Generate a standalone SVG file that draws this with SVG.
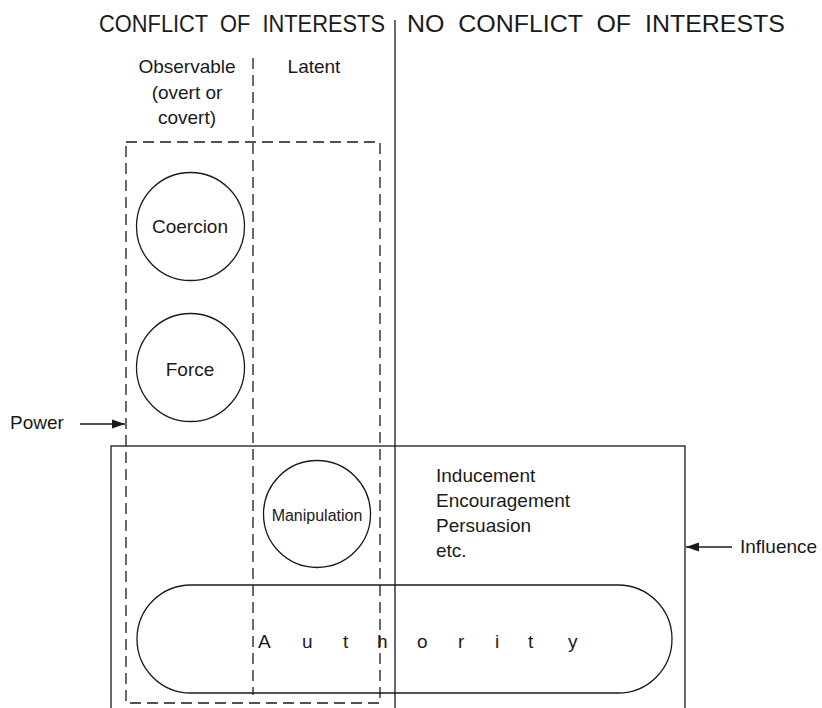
<svg xmlns="http://www.w3.org/2000/svg" width="822" height="708" viewBox="0 0 822 708">
<defs>
<marker id="ah" markerWidth="13" markerHeight="10" refX="13" refY="5" orient="auto" markerUnits="userSpaceOnUse">
<path d="M0,0.5 L13,5 L0,9.5 Z" fill="#1a1a1a"/>
</marker>
<style>
text{font-family:"Liberation Sans",Arial,sans-serif;fill:#1a1a1a}
.big{font-size:23px}
.lab{font-size:19px}
.small{font-size:16px}
.solid{fill:none;stroke:#1a1a1a;stroke-width:1.3}
.dash{fill:none;stroke:#1a1a1a;stroke-width:1.3;stroke-dasharray:11 6}
</style>
</defs>
<rect width="822" height="708" fill="#fff"/>
<g id="headers">
<text class="big" x="99" y="32" textLength="286" lengthAdjust="spacingAndGlyphs" xml:space="preserve">CONFLICT  OF  INTERESTS</text>
<text class="big" x="407" y="32" textLength="378" lengthAdjust="spacingAndGlyphs" xml:space="preserve">NO  CONFLICT  OF  INTERESTS</text>
<text class="lab" x="187" y="73" text-anchor="middle">Observable</text>
<text class="lab" x="187" y="99" text-anchor="middle">(overt or</text>
<text class="lab" x="187" y="124" text-anchor="middle">covert)</text>
<text class="lab" x="314" y="73" text-anchor="middle">Latent</text>
</g>
<g id="dividers">
<line class="solid" x1="395" y1="20" x2="395" y2="708"/>
<line class="dash" x1="253" y1="58" x2="253" y2="695"/>
</g>
<g id="power">
<rect class="dash" x="126" y="142" width="254" height="561"/>
<text class="lab" x="10" y="429">Power</text>
</g>
<g id="influence">
<rect class="solid" x="111" y="446" width="574" height="280"/>
<text class="lab" x="740" y="553">Influence</text>
</g>
<g id="coercion">
<circle class="solid" cx="190.5" cy="226.5" r="54"/>
<text class="lab" x="190" y="233" text-anchor="middle">Coercion</text>
</g>
<g id="force">
<circle class="solid" cx="190.5" cy="367.5" r="54"/>
<text class="lab" x="190" y="376" text-anchor="middle">Force</text>
</g>
<g id="manipulation">
<circle class="solid" cx="317" cy="514" r="53.5"/>
<text class="small" x="317" y="521" text-anchor="middle">Manipulation</text>
</g>
<g id="others">
<text class="lab" x="436" y="482">Inducement</text>
<text class="lab" x="436" y="507">Encouragement</text>
<text class="lab" x="436" y="532">Persuasion</text>
<text class="lab" x="436" y="557">etc.</text>
</g>
<g id="authority">
<rect class="solid" x="137" y="585" width="535" height="108" rx="54" ry="54"/>
<text class="lab" x="258 302 343 377 417 458 495 528 568" y="648">Authority</text>
</g>
<g id="connectors">
<line class="solid" x1="80" y1="424" x2="125" y2="424" marker-end="url(#ah)"/>
<line class="solid" x1="732" y1="547" x2="686" y2="547" marker-end="url(#ah)"/>
</g>
</svg>
